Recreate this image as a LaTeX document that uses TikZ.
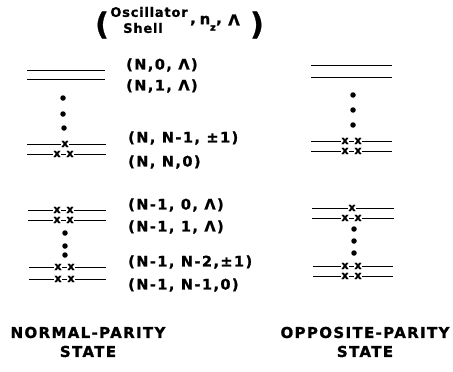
\documentclass[tikz,border=0pt]{standalone}
\usepackage{fontspec}
\newfontfamily\labfont[LetterSpace=10,FakeBold=1.2]{DejaVu Sans}
\newfontfamily\capfont[LetterSpace=9,FakeBold=1.2]{DejaVu Sans}
\newfontfamily\hdfont[LetterSpace=6,FakeBold=1]{DejaVu Sans}
\newfontfamily\plainfont[FakeBold=1]{DejaVu Sans}
\begin{document}
\begin{tikzpicture}[x=1pt,y=-1pt,
  level/.style={line width=0.8pt},
  xm/.style={font=\plainfont\bfseries\fontsize{11}{11}\selectfont, fill=white, inner sep=0.1pt},
  dot/.style={circle, fill=black, inner sep=0pt, minimum size=5.5pt},
  lab/.style={anchor=west, inner sep=0pt, font=\labfont\bfseries\fontsize{14.5}{14.5}\selectfont},
  captxt/.style={align=center, inner sep=0pt, font=\capfont\bfseries\fontsize{15}{19}\selectfont},
  hdtxt/.style={inner sep=0pt, font=\hdfont\bfseries\fontsize{13}{13}\selectfont},
  hdbig/.style={inner sep=0pt, font=\plainfont\bfseries\fontsize{15}{15}\selectfont},
  paren/.style={inner sep=0pt, font=\plainfont\bfseries\fontsize{30}{30}\selectfont}]
\useasboundingbox (0,0) rectangle (453,372);

% header
\node[paren] (lp) at (102,25) {(};
\node[hdtxt] (hdO) at (149,12) {Oscillator};
\node[hdtxt] (hdS) at (143,28) {Shell};
\node[hdbig] (hdc1) at (193,23) {,};
\node[hdbig] (hdn) at (205,20) {n};
\node[hdtxt, font=\plainfont\bfseries\fontsize{10}{10}\selectfont] (hdz) at (213,28) {z};
\node[hdbig] (hdc2) at (219,23) {,};
\node[hdbig] (hdL) at (234,20) {Λ};
\node[paren] (rp) at (257,25) {)};

% left column, upper group
\draw[level] (27,70) coordinate (la1) -- (105,70) coordinate (lb1);
\draw[level] (27,79) coordinate (la2) -- (105,79) coordinate (lb2);
\node[dot] (ld1) at (63,98) {};
\node[dot] (ld2) at (63,114) {};
\node[dot] (ld3) at (64,128) {};
\draw[level] (27,144) coordinate (la3) -- (106,144) coordinate (lb3);
\node[xm] (lx31) at (65,144) {x};
\draw[level] (27,154) coordinate (la4) -- (106,154) coordinate (lb4);
\node[xm] (lx41) at (57,154) {x};
\node[xm] (lx42) at (70,154) {x};

% left column, lower group
\draw[level] (28,210) coordinate (la5) -- (106,210) coordinate (lb5);
\node[xm] (lx51) at (57,210) {x};
\node[xm] (lx52) at (70,210) {x};
\draw[level] (28,220) coordinate (la6) -- (106,220) coordinate (lb6);
\node[xm] (lx61) at (57,220) {x};
\node[xm] (lx62) at (70,220) {x};
\node[dot] (ld4) at (65,233) {};
\node[dot] (ld5) at (65,246) {};
\node[dot] (ld6) at (65,255) {};
\draw[level] (29,267) coordinate (la7) -- (106,267) coordinate (lb7);
\node[xm] (lx71) at (58,267) {x};
\node[xm] (lx72) at (71,267) {x};
\draw[level] (29,279) coordinate (la8) -- (106,279) coordinate (lb8);
\node[xm] (lx81) at (58,279) {x};
\node[xm] (lx82) at (71,279) {x};

% right column, upper group
\draw[level] (311,65) coordinate (ra1) -- (392,65) coordinate (rb1);
\draw[level] (311,77) coordinate (ra2) -- (392,77) coordinate (rb2);
\node[dot] (rd1) at (353,95) {};
\node[dot] (rd2) at (353,110) {};
\node[dot] (rd3) at (353,125) {};
\draw[level] (311,141) coordinate (ra3) -- (392,141) coordinate (rb3);
\node[xm] (rx31) at (345,141) {x};
\node[xm] (rx32) at (358,141) {x};
\draw[level] (311,151) coordinate (ra4) -- (392,151) coordinate (rb4);
\node[xm] (rx41) at (345,151) {x};
\node[xm] (rx42) at (358,151) {x};

% right column, lower group
\draw[level] (312,208) coordinate (ra5) -- (394,208) coordinate (rb5);
\node[xm] (rx51) at (352,208) {x};
\draw[level] (312,218) coordinate (ra6) -- (394,218) coordinate (rb6);
\node[xm] (rx61) at (345,218) {x};
\node[xm] (rx62) at (358,218) {x};
\node[dot] (rd4) at (354,229) {};
\node[dot] (rd5) at (354,241) {};
\node[dot] (rd6) at (354,253) {};
\draw[level] (313,266) coordinate (ra7) -- (393,266) coordinate (rb7);
\node[xm] (rx71) at (345,266) {x};
\node[xm] (rx72) at (358,266) {x};
\draw[level] (313,276) coordinate (ra8) -- (393,276) coordinate (rb8);
\node[xm] (rx81) at (345,276) {x};
\node[xm] (rx82) at (358,276) {x};

% labels
\node[lab] (t1) at (126,65) {(N,0, Λ)};
\node[lab] (t2) at (126,86) {(N,1, Λ)};
\node[lab] (t3) at (128,138) {(N, N-1, ±1)};
\node[lab] (t4) at (128,162) {(N, N,0)};
\node[lab] (t5) at (128,205) {(N-1, 0, Λ)};
\node[lab] (t6) at (128,227) {(N-1, 1, Λ)};
\node[lab] (t7) at (128,262) {(N-1, N-2,±1)};
\node[lab] (t8) at (128,285) {(N-1, N-1,0)};

% captions
\node[captxt] (c1) at (88,342) {NORMAL-PARITY\\STATE};
\node[captxt] (c2) at (365,342) {OPPOSITE-PARITY\\STATE};
\end{tikzpicture}
\end{document}
